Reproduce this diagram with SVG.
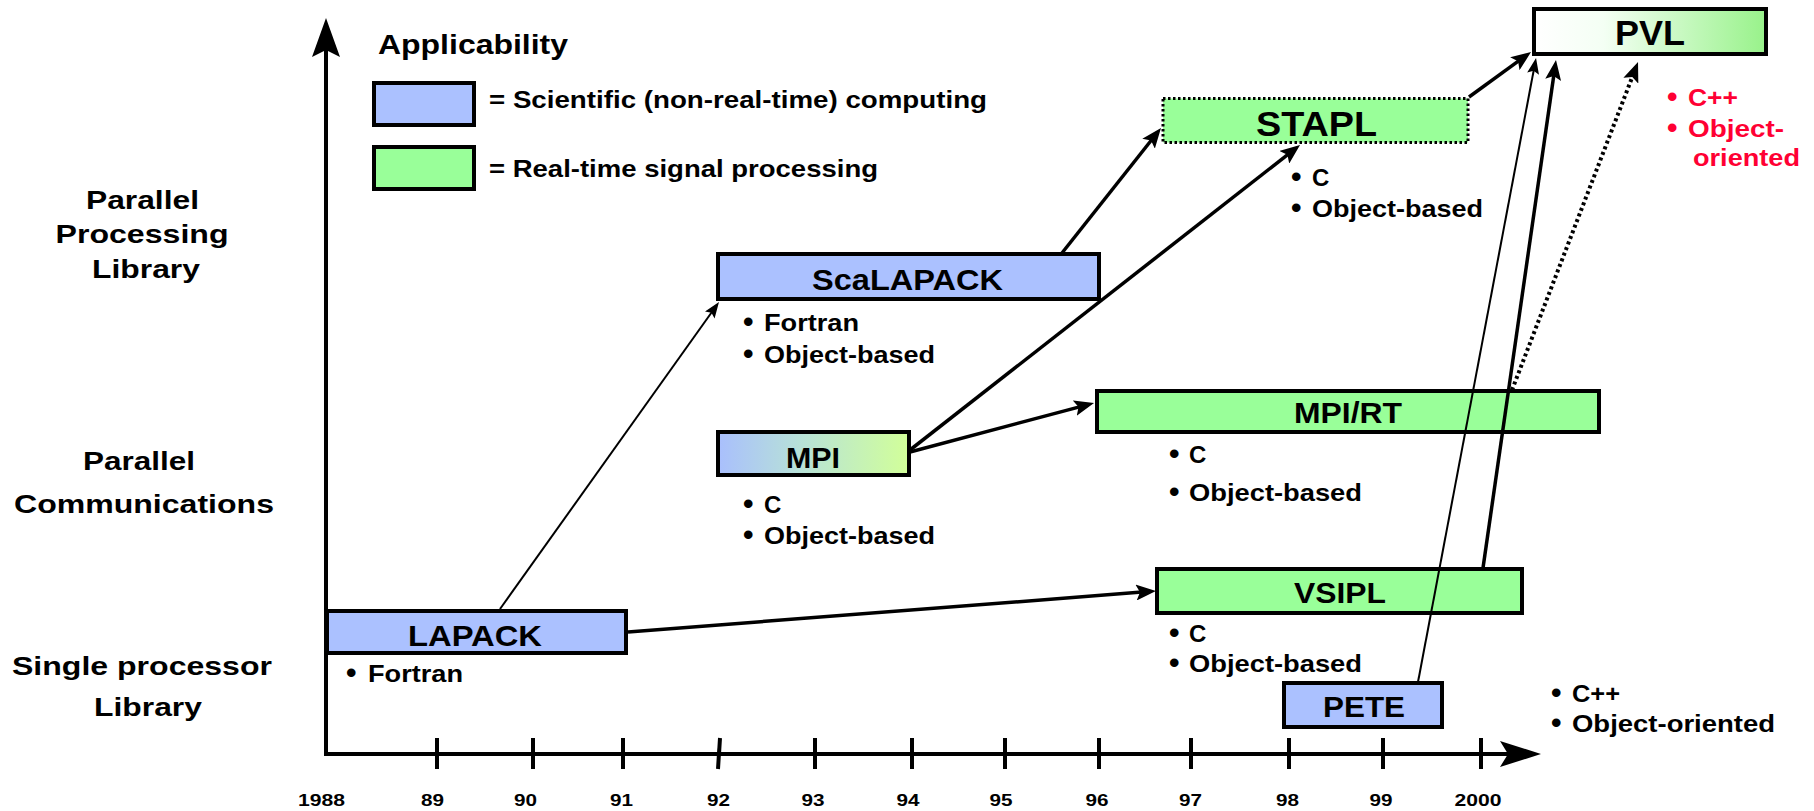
<svg xmlns="http://www.w3.org/2000/svg" width="1814" height="811" viewBox="0 0 1814 811">
  <style>
    .t { font-family: "Liberation Sans", Arial, Helvetica, sans-serif; font-weight: bold; fill: #000; }
    .box { stroke: #000; stroke-width: 4; }
    .blue { fill: #abc1ff; }
    .green { fill: #99ff99; }
    .lbl { font-size: 30px; text-anchor: middle; }
    .big { font-size: 35px; text-anchor: middle; }
    .bul { font-size: 24px; }
    .dot { font-size: 30px; }
    .red { fill: #ff0033; }
    .yr { font-size: 17px; text-anchor: middle; }
    .side { font-size: 26px; text-anchor: middle; }
    .axis { stroke: #000; stroke-width: 4; fill: none; }
    .tick { stroke: #000; stroke-width: 4; }
    .thick { stroke: #000; stroke-width: 3.5; fill: none; marker-end: url(#headThick); }
    .thin { stroke: #000; stroke-width: 2; fill: none; marker-end: url(#headThin); }
    .dots { stroke: #000; stroke-width: 4; fill: none; stroke-dasharray: 3 3; marker-end: url(#headThick); }
  </style>
  <defs>
    <linearGradient id="gradMPI" x1="0" y1="0" x2="1" y2="0">
      <stop offset="0" stop-color="#a9bffd"/>
      <stop offset="0.45" stop-color="#b8e3d6"/>
      <stop offset="1" stop-color="#d2ff99"/>
    </linearGradient>
    <linearGradient id="gradPVL" x1="0" y1="0" x2="1" y2="0">
      <stop offset="0" stop-color="#ffffff"/>
      <stop offset="0.3" stop-color="#f4fff4"/>
      <stop offset="1" stop-color="#98f28a"/>
    </linearGradient>
    <marker id="headThick" viewBox="0 0 20 16" markerWidth="20" markerHeight="16" refX="6" refY="8" orient="auto" markerUnits="userSpaceOnUse">
      <path d="M0,0 L20,8 L0,16 L4,8 z" fill="#000"/>
    </marker>
    <marker id="headThin" viewBox="0 0 16 12" markerWidth="16" markerHeight="12" refX="5" refY="6" orient="auto" markerUnits="userSpaceOnUse">
      <path d="M0,0 L16,6 L0,12 L3,6 z" fill="#000"/>
    </marker>
  </defs>

  <rect width="1814" height="811" fill="#fff"/>

  <!-- axes -->
  <g id="axes">
    <line class="axis" x1="326" y1="48" x2="326" y2="756"/>
    <path d="M326,18 L340,57 L326,50 L312,57 z" fill="#000"/>
    <line class="axis" x1="324" y1="754" x2="1512" y2="754"/>
    <path d="M1541,754 L1500,767 L1508,754 L1500,741 z" fill="#000"/>
    <line class="tick" x1="437" y1="738" x2="437" y2="769"/>
    <line class="tick" x1="533" y1="738" x2="533" y2="769"/>
    <line class="tick" x1="623" y1="738" x2="623" y2="769"/>
    <line class="tick" x1="720" y1="738" x2="718" y2="769"/>
    <line class="tick" x1="815" y1="738" x2="815" y2="769"/>
    <line class="tick" x1="912" y1="738" x2="912" y2="769"/>
    <line class="tick" x1="1005" y1="738" x2="1005" y2="769"/>
    <line class="tick" x1="1099" y1="738" x2="1099" y2="769"/>
    <line class="tick" x1="1191" y1="738" x2="1191" y2="769"/>
    <line class="tick" x1="1289" y1="738" x2="1289" y2="769"/>
    <line class="tick" x1="1383" y1="738" x2="1383" y2="769"/>
    <line class="tick" x1="1481" y1="738" x2="1481" y2="769"/>
    <text class="t yr" x="321.5" y="806" textLength="47" lengthAdjust="spacingAndGlyphs">1988</text>
    <text class="t yr" x="432.5" y="806" textLength="23" lengthAdjust="spacingAndGlyphs">89</text>
    <text class="t yr" x="525.5" y="806" textLength="23" lengthAdjust="spacingAndGlyphs">90</text>
    <text class="t yr" x="621.5" y="806" textLength="23" lengthAdjust="spacingAndGlyphs">91</text>
    <text class="t yr" x="718.5" y="806" textLength="23" lengthAdjust="spacingAndGlyphs">92</text>
    <text class="t yr" x="813" y="806" textLength="23" lengthAdjust="spacingAndGlyphs">93</text>
    <text class="t yr" x="908" y="806" textLength="23" lengthAdjust="spacingAndGlyphs">94</text>
    <text class="t yr" x="1001" y="806" textLength="23" lengthAdjust="spacingAndGlyphs">95</text>
    <text class="t yr" x="1097" y="806" textLength="23" lengthAdjust="spacingAndGlyphs">96</text>
    <text class="t yr" x="1190.5" y="806" textLength="23" lengthAdjust="spacingAndGlyphs">97</text>
    <text class="t yr" x="1287.5" y="806" textLength="23" lengthAdjust="spacingAndGlyphs">98</text>
    <text class="t yr" x="1381" y="806" textLength="23" lengthAdjust="spacingAndGlyphs">99</text>
    <text class="t yr" x="1478" y="806" textLength="47" lengthAdjust="spacingAndGlyphs">2000</text>
  </g>

  <!-- row captions -->
  <g id="rows">
    <text class="t side" x="142.5" y="209" textLength="113" lengthAdjust="spacingAndGlyphs">Parallel</text>
    <text class="t side" x="142" y="243" textLength="173" lengthAdjust="spacingAndGlyphs">Processing</text>
    <text class="t side" x="146" y="278" textLength="108" lengthAdjust="spacingAndGlyphs">Library</text>
    <text class="t side" x="139" y="470" textLength="112" lengthAdjust="spacingAndGlyphs">Parallel</text>
    <text class="t side" x="144" y="513" textLength="260" lengthAdjust="spacingAndGlyphs">Communications</text>
    <text class="t side" x="142" y="675" textLength="260" lengthAdjust="spacingAndGlyphs">Single processor</text>
    <text class="t side" x="148" y="716" textLength="108" lengthAdjust="spacingAndGlyphs">Library</text>
  </g>

  <!-- legend -->
  <g id="legend">
    <text class="t" x="378" y="54" font-size="27" textLength="190" lengthAdjust="spacingAndGlyphs">Applicability</text>
    <rect class="box blue" x="374" y="83" width="100" height="42"/>
    <text class="t bul" x="489" y="108" textLength="498" lengthAdjust="spacingAndGlyphs">= Scientific (non-real-time) computing</text>
    <rect class="box green" x="374" y="147" width="100" height="42"/>
    <text class="t bul" x="489" y="177" textLength="389" lengthAdjust="spacingAndGlyphs">= Real-time signal processing</text>
  </g>

  <!-- libraries -->
  <g id="lapack">
    <rect class="box blue" x="327" y="611" width="299" height="42"/>
    <text class="t lbl" x="475" y="646" font-size="28" textLength="134" lengthAdjust="spacingAndGlyphs">LAPACK</text>
    <text class="t dot" x="346" y="683">•</text>
    <text class="t bul" x="368" y="682" textLength="95" lengthAdjust="spacingAndGlyphs">Fortran</text>
  </g>

  <g id="scalapack">
    <rect class="box blue" x="718" y="254" width="381" height="45"/>
    <text class="t lbl" x="907.5" y="290" textLength="191" lengthAdjust="spacingAndGlyphs">ScaLAPACK</text>
    <text class="t dot" x="743" y="332">•</text>
    <text class="t bul" x="764" y="331" textLength="95" lengthAdjust="spacingAndGlyphs">Fortran</text>
    <text class="t dot" x="743" y="364">•</text>
    <text class="t bul" x="764" y="363" textLength="171" lengthAdjust="spacingAndGlyphs">Object-based</text>
  </g>

  <g id="mpi">
    <rect class="box" x="718" y="432" width="191" height="43" fill="url(#gradMPI)"/>
    <text class="t lbl" x="813" y="468" font-size="29" textLength="54" lengthAdjust="spacingAndGlyphs">MPI</text>
    <text class="t dot" x="743" y="514">•</text>
    <text class="t bul" x="764" y="513">C</text>
    <text class="t dot" x="743" y="545">•</text>
    <text class="t bul" x="764" y="544" textLength="171" lengthAdjust="spacingAndGlyphs">Object-based</text>
  </g>

  <g id="stapl">
    <rect x="1163" y="98.5" width="305" height="44" class="green" stroke="#000" stroke-width="3" stroke-dasharray="2.5 2.5"/>
    <text class="t big" x="1316.5" y="136" textLength="121" lengthAdjust="spacingAndGlyphs">STAPL</text>
    <text class="t dot" x="1291" y="187">•</text>
    <text class="t bul" x="1312" y="186">C</text>
    <text class="t dot" x="1291" y="218">•</text>
    <text class="t bul" x="1312" y="217" textLength="171" lengthAdjust="spacingAndGlyphs">Object-based</text>
  </g>

  <g id="mpirt">
    <rect class="box green" x="1097" y="391" width="502" height="41"/>
    <text class="t lbl" x="1348" y="423" textLength="108" lengthAdjust="spacingAndGlyphs">MPI/RT</text>
    <text class="t dot" x="1169" y="464">•</text>
    <text class="t bul" x="1189" y="463">C</text>
    <text class="t dot" x="1169" y="502">•</text>
    <text class="t bul" x="1189" y="501" textLength="173" lengthAdjust="spacingAndGlyphs">Object-based</text>
  </g>

  <g id="vsipl">
    <rect class="box green" x="1157" y="569" width="365" height="44"/>
    <text class="t lbl" x="1340" y="603" textLength="92" lengthAdjust="spacingAndGlyphs">VSIPL</text>
    <text class="t dot" x="1169" y="643">•</text>
    <text class="t bul" x="1189" y="642">C</text>
    <text class="t dot" x="1169" y="673">•</text>
    <text class="t bul" x="1189" y="672" textLength="173" lengthAdjust="spacingAndGlyphs">Object-based</text>
  </g>

  <g id="pete">
    <rect class="box blue" x="1284" y="683" width="158" height="44"/>
    <text class="t lbl" x="1364" y="717" textLength="82" lengthAdjust="spacingAndGlyphs">PETE</text>
    <text class="t dot" x="1551" y="703">•</text>
    <text class="t bul" x="1572" y="702" textLength="48" lengthAdjust="spacingAndGlyphs">C++</text>
    <text class="t dot" x="1551" y="733">•</text>
    <text class="t bul" x="1572" y="732" textLength="203" lengthAdjust="spacingAndGlyphs">Object-oriented</text>
  </g>

  <g id="pvl">
    <rect class="box" x="1534" y="9" width="232" height="45" fill="url(#gradPVL)"/>
    <text class="t big" x="1650" y="45" textLength="70" lengthAdjust="spacingAndGlyphs">PVL</text>
    <text class="t dot red" x="1667" y="107">•</text>
    <text class="t bul red" x="1688" y="106" textLength="50" lengthAdjust="spacingAndGlyphs">C++</text>
    <text class="t dot red" x="1667" y="138">•</text>
    <text class="t bul red" x="1688" y="137" textLength="96" lengthAdjust="spacingAndGlyphs">Object-</text>
    <text class="t bul red" x="1693" y="166" textLength="107" lengthAdjust="spacingAndGlyphs">oriented</text>
  </g>

  <!-- lineage arrows -->
  <g id="connectors">
    <line class="thin" x1="500" y1="609" x2="712.6" y2="311.0"/>
    <line class="thick" x1="628" y1="632" x2="1142.0" y2="592.1"/>
    <line class="thick" x1="1062" y1="253" x2="1152.3" y2="139.0"/>
    <line class="thick" x1="910" y1="450" x2="1289.0" y2="153.6"/>
    <line class="thick" x1="910" y1="452" x2="1080.5" y2="406.6"/>
    <line class="thick" x1="1469" y1="97" x2="1519.7" y2="60.2"/>
    <line class="thin" x1="1418" y1="682" x2="1534.0" y2="68.8"/>
    <line class="thick" x1="1483" y1="568" x2="1554.0" y2="73.9"/>
    <line class="dots" x1="1512" y1="390" x2="1633.0" y2="75.1"/>
  </g>
</svg>
